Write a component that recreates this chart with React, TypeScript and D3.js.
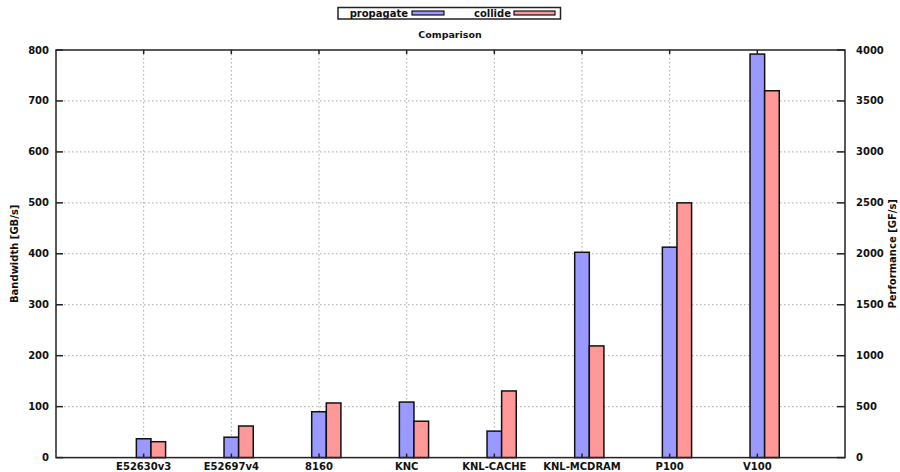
import React from "react";
import * as d3 from "d3";

// Architectures compared
const categories = ["E52630v3", "E52697v4", "8160", "KNC", "KNL-CACHE", "KNL-MCDRAM", "P100", "V100"];
// propagate: memory bandwidth in GB/s (left axis)
const propagate = [37, 40, 90, 109, 52, 403, 413, 792];
// collide: performance in GF/s (right axis)
const collide = [156, 310, 536, 357, 654, 1096, 2500, 3600];
const leftTicks = [0, 100, 200, 300, 400, 500, 600, 700, 800];
const rightTicks = [0, 500, 1000, 1500, 2000, 2500, 3000, 3500, 4000];

const W = 900;
const H = 472;
const plot = { left: 56, right: 845, top: 50, bottom: 457.6 };
const FONT = "'DejaVu Sans', Verdana, sans-serif";
const BLUE = "#9999ff";
const RED = "#ff9999";

export default function App() {
  const x = d3.scaleLinear().domain([0, categories.length + 1]).range([plot.left, plot.right]);
  const yL = d3.scaleLinear().domain([0, 800]).range([plot.bottom, plot.top]);
  const yR = d3.scaleLinear().domain([0, 4000]).range([plot.bottom, plot.top]);
  const bw = (x(1) - x(0)) / 6;

  return (
    <svg
      width={W}
      height={H}
      style={{ position: "absolute", left: 0, top: 0, background: "#fff" }}
      fontFamily={FONT}
      fontWeight="bold"
    >
      {/* horizontal grid */}
      {leftTicks.slice(1, -1).map((t) => (
        <line
          key={"hg" + t}
          x1={plot.left}
          x2={plot.right}
          y1={yL(t)}
          y2={yL(t)}
          stroke="#a8a8a8"
          strokeWidth={1}
          strokeDasharray="1.5,2.5"
        />
      ))}
      {/* vertical grid */}
      {categories.map((c, i) => (
        <line
          key={"vg" + c}
          x1={x(i + 1)}
          x2={x(i + 1)}
          y1={plot.top}
          y2={plot.bottom}
          stroke="#a8a8a8"
          strokeWidth={1}
          strokeDasharray="1.5,2.5"
        />
      ))}

      {/* bars */}
      {categories.map((c, i) => (
        <g key={"b" + c}>
          <rect
            x={x(i + 1) - bw / 2}
            y={yL(propagate[i])}
            width={bw}
            height={yL(0) - yL(propagate[i])}
            fill={BLUE}
            stroke="#111"
            strokeWidth={1.5}
          />
          <rect
            x={x(i + 1) + bw / 2}
            y={yR(collide[i])}
            width={bw}
            height={yR(0) - yR(collide[i])}
            fill={RED}
            stroke="#111"
            strokeWidth={1.5}
          />
        </g>
      ))}

      {/* ticks */}
      {leftTicks.map((t) => (
        <line key={"lt" + t} x1={plot.left} x2={plot.left + 7} y1={yL(t)} y2={yL(t)} stroke="#222" strokeWidth={1.5} />
      ))}
      {rightTicks.map((t) => (
        <line key={"rt" + t} x1={plot.right - 8} x2={plot.right} y1={yR(t)} y2={yR(t)} stroke="#222" strokeWidth={1.5} />
      ))}
      {categories.map((c, i) => (
        <g key={"xt" + c}>
          <line x1={x(i + 1)} x2={x(i + 1)} y1={plot.bottom} y2={plot.bottom - 4} stroke="#222" strokeWidth={1.5} />
          <line x1={x(i + 1)} x2={x(i + 1)} y1={plot.top} y2={plot.top + 4} stroke="#222" strokeWidth={1.5} />
        </g>
      ))}

      {/* frame */}
      <rect
        x={plot.left}
        y={plot.top}
        width={plot.right - plot.left}
        height={plot.bottom - plot.top}
        fill="none"
        stroke="#222"
        strokeWidth={1.5}
      />

      {/* tick labels */}
      {leftTicks.map((t) => (
        <text key={"ll" + t} x={plot.left - 7} y={yL(t)} dy="0.35em" textAnchor="end" fontSize={10} fill="#111">
          {t}
        </text>
      ))}
      {rightTicks.map((t) => (
        <text key={"rl" + t} x={plot.right + 11} y={yR(t)} dy="0.35em" textAnchor="start" fontSize={10} fill="#111">
          {t}
        </text>
      ))}
      {categories.map((c, i) => (
        <text key={"xl" + c} x={x(i + 1)} y={470} textAnchor="middle" fontSize={10} fill="#111">
          {c}
        </text>
      ))}

      {/* axis titles */}
      <text
        transform={`translate(18,${(plot.top + plot.bottom) / 2}) rotate(-90)`}
        textAnchor="middle"
        fontSize={10}
        fill="#111"
      >
        Bandwidth [GB/s]
      </text>
      <text
        transform={`translate(896,${(plot.top + plot.bottom) / 2}) rotate(-90)`}
        textAnchor="middle"
        fontSize={10}
        fill="#111"
      >
        Performance [GF/s]
      </text>

      {/* title */}
      <text x={450} y={38} textAnchor="middle" fontSize={9.5} fill="#111">
        Comparison
      </text>

      {/* legend */}
      <rect x={338} y={7.5} width={222.5} height={11.5} fill="#fff" stroke="#222" strokeWidth={1.5} />
      <text x={408} y={17} textAnchor="end" fontSize={10} fill="#111">
        propagate
      </text>
      <rect x={412} y={11} width={32} height={4} fill={BLUE} stroke="#111" strokeWidth={1.2} />
      <text x={511} y={17} textAnchor="end" fontSize={10} fill="#111">
        collide
      </text>
      <rect x={514} y={11} width={41} height={4} fill={RED} stroke="#111" strokeWidth={1.2} />
    </svg>
  );
}
